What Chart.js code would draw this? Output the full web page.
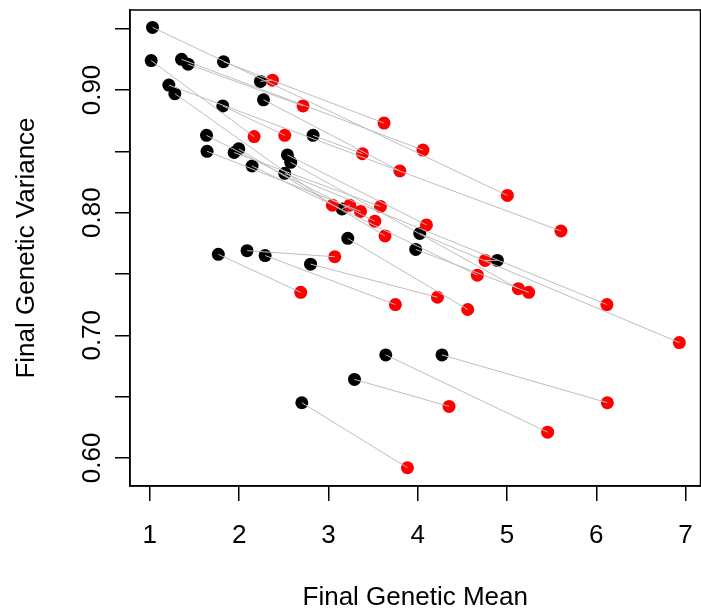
<!DOCTYPE html>
<html>
<head>
<meta charset="utf-8">
<script src="https://cdn.jsdelivr.net/npm/chart.js@4.4.1/dist/chart.umd.min.js"></script>
<style>
  html, body { margin: 0; padding: 0; background: #fff; overflow: hidden; }
  canvas { display: block; }
</style>
</head>
<body>
<canvas id="varianceChart" width="707" height="613"></canvas>
<script>
  // paired runs: black = first group, red = second group, joined by a grey segment
  const blackMean = [1.030, 1.015, 1.355, 1.429, 1.825, 1.213, 1.280, 2.239, 2.273, 1.817, 1.635, 1.641, 1.996, 1.944, 2.145, 2.541,
                     2.578, 2.511, 2.828, 3.153, 3.217, 4.023, 3.978, 1.767, 2.089, 2.291, 2.800, 4.892, 4.272, 3.642, 3.292, 2.702];
  const blackVar  = [0.951, 0.924, 0.925, 0.921, 0.923, 0.904, 0.897, 0.907, 0.892, 0.887, 0.863, 0.850, 0.852, 0.849, 0.838, 0.847,
                     0.841, 0.832, 0.863, 0.803, 0.779, 0.783, 0.770, 0.766, 0.769, 0.765, 0.758, 0.761, 0.684, 0.684, 0.664, 0.645];
  const redMean   = [5.004, 2.168, 4.059, 2.716, 3.623, 5.604, 3.045, 2.374, 3.800, 2.511, 3.519, 3.359, 3.634, 3.583, 4.668, 4.098,
                     5.127, 6.119, 3.381, 3.239, 4.560, 6.930, 5.243, 2.690, 3.071, 3.750, 4.221, 4.754, 6.124, 5.455, 4.351, 3.885];
  const redVar    = [0.814, 0.862, 0.851, 0.887, 0.873, 0.785, 0.806, 0.908, 0.834, 0.863, 0.793, 0.801, 0.781, 0.805, 0.749, 0.790,
                     0.738, 0.725, 0.848, 0.806, 0.721, 0.694, 0.735, 0.735, 0.764, 0.725, 0.731, 0.761, 0.645, 0.621, 0.642, 0.592];

  const xTicks = [1, 2, 3, 4, 5, 6, 7];
  const yTicks = [0.60, 0.65, 0.70, 0.75, 0.80, 0.85, 0.90, 0.95];
  const yLabels = ["0.60", "", "0.70", "", "0.80", "", "0.90", ""];

  const fontFamily = "'Liberation Sans', Arial, Helvetica, sans-serif";
  const tickFont = { family: fontFamily, size: 26 };
  // taller line box pushes the x labels down without widening the side padding
  const xTickFont = { family: fontFamily, size: 26, lineHeight: 2.4 };

  // keep the label overflow from eating into the plot width
  const noPadding = () => ({ left: 0, top: 0, right: 0, bottom: 0 });

  // segments go on top of the points
  const segments = blackMean.map((x, i) => ({
    data: [{ x: x, y: blackVar[i] }, { x: redMean[i], y: redVar[i] }],
    showLine: true,
    borderColor: "#BEBEBE",
    borderWidth: 1,
    pointRadius: 0,
    order: 0
  }));

  // full box round the plot region
  const boxPlugin = {
    id: "plotBox",
    afterDraw(chart) {
      const a = chart.chartArea;
      const c = chart.ctx;
      c.save();
      c.strokeStyle = "#000";
      c.lineWidth = 1.5;
      c.strokeRect(a.left, a.top, a.right - a.left, a.bottom - a.top);
      c.restore();
    }
  };

  const ctx = document.getElementById("varianceChart").getContext("2d");
  new Chart(ctx, {
    type: "scatter",
    data: {
      datasets: [
        ...segments,
        {
          data: redMean.map((x, i) => ({ x: x, y: redVar[i] })),
          backgroundColor: "#FF0000",
          borderWidth: 0,
          pointRadius: 6.5,
          order: 1
        },
        {
          data: blackMean.map((x, i) => ({ x: x, y: blackVar[i] })),
          backgroundColor: "#000000",
          borderWidth: 0,
          pointRadius: 6.5,
          order: 2
        }
      ]
    },
    options: {
      responsive: false,
      devicePixelRatio: 1,
      animation: false,
      layout: { padding: { top: 10, right: 1, left: 0, bottom: 0 } },
      plugins: {
        legend: { display: false },
        tooltip: { enabled: false }
      },
      scales: {
        x: {
          type: "linear",
          min: 0.778,
          max: 7.167,
          afterFit: s => { s.height = 127; s.getPadding = noPadding; },
          afterBuildTicks: s => { s.ticks = xTicks.map(v => ({ value: v })); },
          grid: { drawOnChartArea: false, drawTicks: true, tickLength: 15, color: "#000", lineWidth: 1.5 },
          border: { display: true, color: "#000", width: 1.5 },
          ticks: { color: "#000", font: xTickFont, padding: 4, maxRotation: 0, autoSkip: false },
          title: { display: true, text: "Final Genetic Mean", color: "#000", font: tickFont, padding: { top: 0, bottom: 0 } }
        },
        y: {
          type: "linear",
          min: 0.5771,
          max: 0.9652,
          afterFit: s => { s.width = 130; s.getPadding = noPadding; },
          afterBuildTicks: s => { s.ticks = yTicks.map(v => ({ value: v })); },
          grid: { drawOnChartArea: false, drawTicks: true, tickLength: 15, color: "#000", lineWidth: 1.5 },
          border: { display: true, color: "#000", width: 1.5 },
          ticks: {
            color: "#000",
            font: tickFont,
            padding: -3,
            minRotation: 90,
            maxRotation: 90,
            crossAlign: "center",
            autoSkip: false,
            callback: (v, i) => yLabels[i]
          },
          title: { display: true, text: "Final Genetic Variance", color: "#000", font: tickFont, padding: { top: 11, bottom: 0 } }
        }
      }
    },
    plugins: [boxPlugin]
  });
</script>
</body>
</html>
